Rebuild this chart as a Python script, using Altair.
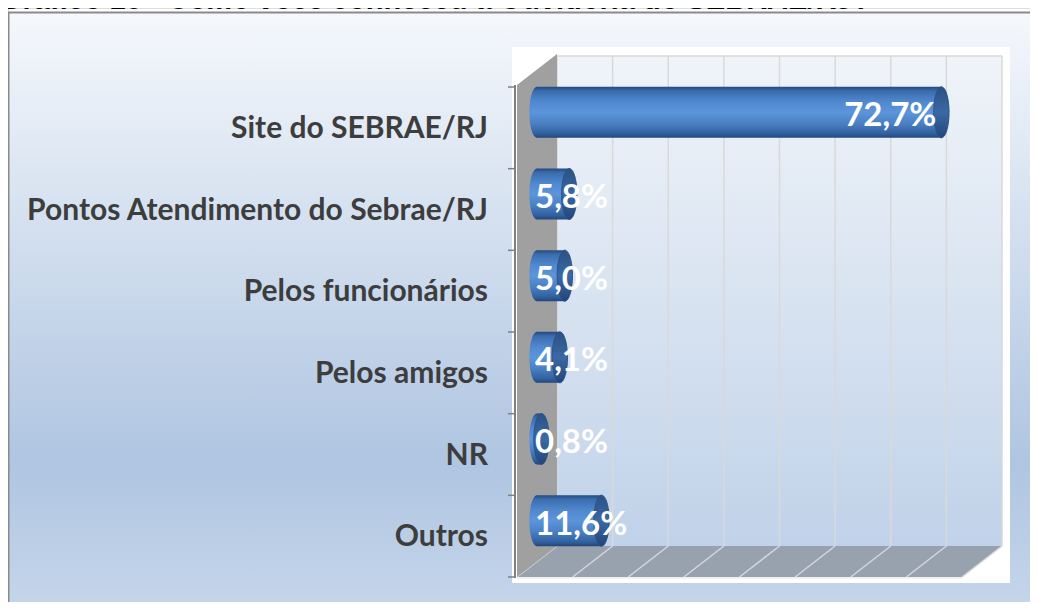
import altair as alt
import pandas as pd

# ---- data ----
categories = ["Site do SEBRAE/RJ", "Pontos Atendimento do Sebrae/RJ", "Pelos funcionários",
              "Pelos amigos", "NR", "Outros"]
values = [72.7, 5.8, 5.0, 4.1, 0.8, 11.6]
value_labels = ["72,7%", "5,8%", "5,0%", "4,1%", "0,8%", "11,6%"]
grid_ticks = [0, 10, 20, 30, 40, 50, 60, 70, 80]
title_text = "Gráfico 10 - Como você conheceu a Ouvidoria do SEBRAE/RJ?"

df = pd.DataFrame({"cat": categories, "val": values, "lab": value_labels})
gdf = pd.DataFrame({"t": grid_ticks})
one = pd.DataFrame({"k": [0]})

# ---- layout (svg pixels) ----
W, H = 1022, 594
X0, X1 = 509, 954          # front plane of the 3-D box
Y0, Y1 = 79, 569           # category band extent (front plane)
DEPTH_X, DEPTH_Y = 40, -31 # back wall offset
MID_X, MID_Y = 20, -15.5   # bars sit half way in depth
BAR_H = 51
STEP = (Y1 - Y0) / len(categories)
AXIS_X = 507

xscale = alt.Scale(domain=[0, 80], range=[X0, X1], nice=False, zero=True)
yscale = alt.Scale(domain=categories, range=[Y0, Y1], paddingInner=0, paddingOuter=0)


def grad(stops, vertical=True):
    return alt.LinearGradient(
        gradient="linear",
        stops=[alt.GradientStop(color=c, offset=o) for o, c in stops],
        x1=0, y1=0, x2=0 if vertical else 1, y2=1 if vertical else 0,
    )


def poly(path, fill, data=one):
    return alt.Chart(data).mark_point(
        shape=path, size=4, filled=True, fill=fill, opacity=1, strokeWidth=0
    ).encode(x=alt.value(0), y=alt.value(0))


ycat = alt.Y("cat:N", scale=yscale, sort=categories, axis=None)

frame = alt.Chart(one).mark_rect(
    fill=grad([(0, "#f5f8fc"), (0.74, "#afc5e1"), (1, "#c7d7eb")]),
    stroke="#8a8a8a", strokeWidth=2,
).encode(x=alt.value(0.5), x2=alt.value(1060), y=alt.value(4.5), y2=alt.value(612))

plot_box = alt.Chart(one).mark_rect(fill="white").encode(
    x=alt.value(504), x2=alt.value(1002), y=alt.value(39), y2=alt.value(575))

back_wall = alt.Chart(one).mark_rect(
    fill=grad([(0, "#f0f4f9"), (1, "#c0d2e9")]),
    xOffset=DEPTH_X, x2Offset=DEPTH_X,
).encode(
    x=alt.XDatum(0, type="quantitative", scale=xscale, axis=None),
    x2=alt.X2Datum(80),
    y=alt.value(Y0 + DEPTH_Y), y2=alt.value(Y1 + DEPTH_Y),
)

back_grid = alt.Chart(gdf).mark_rule(color="#d9d9d9", strokeWidth=1.5, xOffset=DEPTH_X).encode(
    x=alt.X("t:Q", scale=xscale, axis=None),
    y=alt.value(Y0 + DEPTH_Y), y2=alt.value(Y1 + DEPTH_Y),
)

back_top = alt.Chart(one).mark_rule(color="#d9d9d9", strokeWidth=1.5,
                                    xOffset=DEPTH_X, x2Offset=DEPTH_X).encode(
    x=alt.XDatum(0, type="quantitative", scale=xscale, axis=None),
    x2=alt.X2Datum(80),
    y=alt.value(Y0 + DEPTH_Y),
)

floor = poly(f"M{X0},{Y1}L{X0+DEPTH_X},{Y1+DEPTH_Y}L{X1+DEPTH_X},{Y1+DEPTH_Y}L{X1},{Y1}Z", "#98a2af")

floor_grid = alt.Chart(gdf).mark_rule(color="#d4d8de", strokeWidth=1.5, x2Offset=DEPTH_X).encode(
    x=alt.X("t:Q", scale=xscale, axis=None),
    x2="t:Q",
    y=alt.value(Y1), y2=alt.value(Y1 + DEPTH_Y),
)

floor_front = alt.Chart(one).mark_rule(color="#e8ecf2", strokeWidth=1.5).encode(
    x=alt.XDatum(0, type="quantitative", scale=xscale, axis=None),
    x2=alt.X2Datum(80),
    y=alt.value(Y1 + 1),
)

side_wall = poly(f"M{X0},{Y0-2}L{X0+DEPTH_X},{Y0+DEPTH_Y-2}L{X0+DEPTH_X},{Y1+DEPTH_Y}L{X0},{Y1}Z", "#a0a0a0")

# ---- category axis (drawn from the band scale) ----
axis_line = alt.Chart(one).mark_rule(color="#808080", strokeWidth=2).encode(
    x=alt.value(AXIS_X), y=alt.value(Y0 - 2), y2=alt.value(Y1 + 1))

axis_ticks = alt.Chart(df).mark_rule(color="#808080", strokeWidth=1.5, yOffset=-STEP / 2).encode(
    y=ycat, x=alt.value(AXIS_X - 7), x2=alt.value(AXIS_X))

axis_tick_end = alt.Chart(df).transform_filter(
    alt.FieldEqualPredicate(field="cat", equal=categories[-1])
).mark_rule(color="#808080", strokeWidth=1.5, yOffset=STEP / 2).encode(
    y=ycat, x=alt.value(AXIS_X - 7), x2=alt.value(AXIS_X))

axis_labels = alt.Chart(df).mark_text(
    align="right", baseline="middle", font="Lato", fontWeight="bold", fontSize=30,
    color="#3d3d3d", yOffset=1,
).encode(y=ycat, x=alt.value(AXIS_X - 27), text="cat:N")

# ---- cylinders ----
body_grad = grad([(0, "#24497d"), (0.08, "#3a6cad"), (0.3, "#5089d0"),
                  (0.5, "#5c95da"), (0.72, "#4a80c4"), (0.92, "#30609e"), (1, "#23467a")])
cap_grad = grad([(0, "#2a5183"), (0.5, "#3a69a5"), (1, "#22457a")])
ellipse = "M0,-1A0.3,1,0,1,1,0,1A0.3,1,0,1,1,0,-1Z"

bar_left = alt.Chart(df).mark_point(
    shape=ellipse, size=BAR_H ** 2, filled=True, fill=body_grad, opacity=1, strokeWidth=0,
    xOffset=MID_X, yOffset=MID_Y,
).encode(x=alt.XDatum(0, type="quantitative", scale=xscale, axis=None), y=ycat)

bar_body = alt.Chart(df).mark_bar(
    height=BAR_H, fill=body_grad, xOffset=MID_X, x2Offset=MID_X, yOffset=MID_Y,
).encode(x=alt.X("val:Q", scale=xscale, axis=None), y=ycat)

bar_cap = alt.Chart(df).mark_point(
    shape=ellipse, size=BAR_H ** 2, filled=True, fill=cap_grad, opacity=1,
    stroke="#2b5286", strokeWidth=1, xOffset=MID_X, yOffset=MID_Y,
).encode(x=alt.X("val:Q", scale=xscale, axis=None), y=ycat)

lab_big = alt.Chart(df).transform_filter("datum.val > 50").mark_text(
    align="right", baseline="middle", font="Lato", fontWeight="bold", fontSize=33,
    color="white", xOffset=MID_X - 5, yOffset=MID_Y + 4,
).encode(x=alt.X("val:Q", scale=xscale, axis=None), y=ycat, text="lab:N")

lab_small = alt.Chart(df).transform_filter("datum.val <= 50").mark_text(
    align="left", baseline="middle", font="Lato", fontWeight="bold", fontSize=33,
    color="white", xOffset=MID_X - 2, yOffset=MID_Y + 4,
).encode(x=alt.XDatum(0, type="quantitative", scale=xscale, axis=None), y=ycat, text="lab:N")

title = alt.Chart(one).mark_text(
    align="left", baseline="alphabetic", font="Liberation Sans", fontWeight="bold",
    fontSize=29, color="black",
).encode(x=alt.value(-8), y=alt.value(1), text=alt.value(title_text))

chart = alt.layer(
    frame, plot_box, back_wall, back_grid, back_top, floor, floor_grid, floor_front,
    side_wall, axis_line, axis_ticks, axis_tick_end, axis_labels,
    bar_left, bar_body, bar_cap, lab_big, lab_small, title,
).properties(
    width=W, height=H, autosize=alt.AutoSizeParams(type="none"), padding=0,
).configure_view(stroke=None).configure(background="white")

chart.save("out.html", embed_options={"renderer": "svg", "actions": False})
